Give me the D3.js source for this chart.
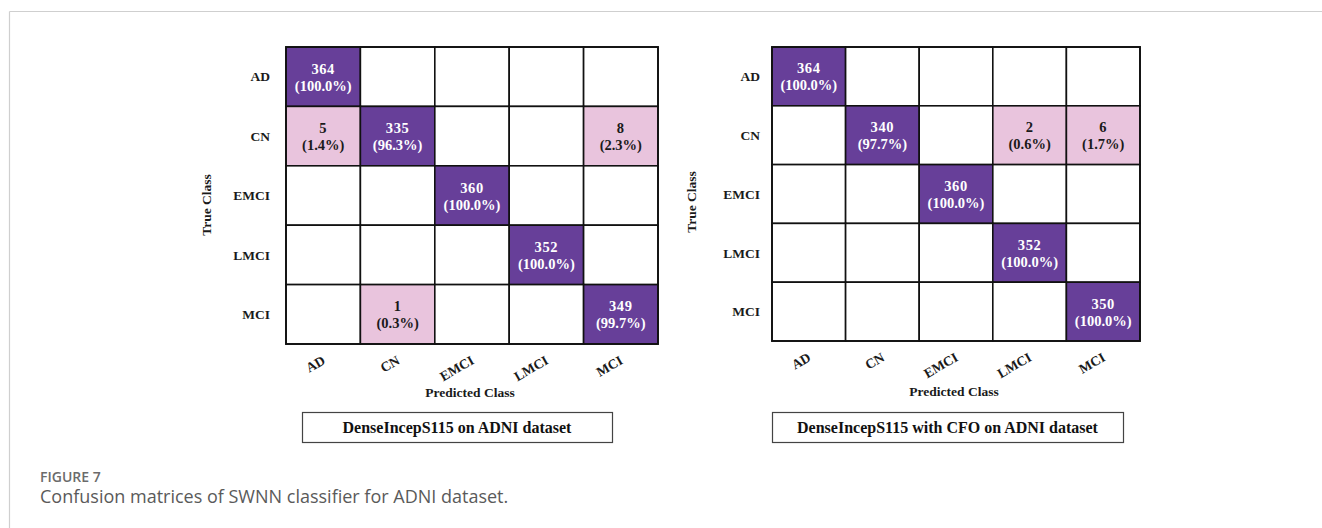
<!DOCTYPE html>
<html>
<head>
<meta charset="utf-8">
<script src="https://cdn.jsdelivr.net/npm/d3@7"></script>
<style>
  html, body { margin: 0; padding: 0; background: #fff; }
  svg { display: block; }
</style>
</head>
<body>
<svg id="fig" width="1322" height="528"></svg>
<script>
// Class labels shared by both matrices (rows = true class, columns = predicted class)
const classes = ["AD", "CN", "EMCI", "LMCI", "MCI"];

// Confusion counts, DenseIncepS115 on ADNI
const countsBase = [
  [364, 0, 0, 0, 0],
  [5, 335, 0, 0, 8],
  [0, 0, 360, 0, 0],
  [0, 0, 0, 352, 0],
  [0, 1, 0, 0, 349]
];

// Confusion counts, DenseIncepS115 with CFO on ADNI
const countsCFO = [
  [364, 0, 0, 0, 0],
  [0, 340, 0, 2, 6],
  [0, 0, 360, 0, 0],
  [0, 0, 0, 352, 0],
  [0, 0, 0, 0, 350]
];

const panelTitles = ["DenseIncepS115 on ADNI dataset", "DenseIncepS115 with CFO on ADNI dataset"];
const xAxisTitle = "Predicted Class";
const yAxisTitle = "True Class";
const figureLabel = "FIGURE 7";
const figureCaption = "Confusion matrices of SWNN classifier for ADNI dataset.";

const serif = "'Liberation Serif', 'Times New Roman', serif";
const sans = "'Open Sans', 'Noto Sans', sans-serif";
const PURPLE = "#673f99";
const PINK = "#e9c4dd";

const svg = d3.select("#fig");

// Page frame: rule along the top and down the left side
svg.append("line").attr("x1", 9.5).attr("x2", 1322).attr("y1", 11.5).attr("y2", 11.5)
  .attr("stroke", "#cfcfcf").attr("stroke-width", 1.2);
svg.append("line").attr("x1", 9.5).attr("x2", 9.5).attr("y1", 11.5).attr("y2", 528)
  .attr("stroke", "#cfcfcf").attr("stroke-width", 1.2);

const panels = [
  { counts: countsBase, title: panelTitles[0], left: 286, right: 658, top: 47, bottom: 344,
    rowLabelGap: 16, yTitleX: 207, yTitleY: 205, xTitleY: 397, box: [302, 412, 310, 30] },
  { counts: countsCFO, title: panelTitles[1], left: 772, right: 1140, top: 47, bottom: 341,
    rowLabelGap: 12, yTitleX: 692, yTitleY: 202, xTitleY: 396, box: [772, 412, 351, 30] }
];

panels.forEach(p => {
  const g = svg.append("g");
  const x = d3.scaleBand().domain(classes).range([p.left, p.right]);
  const y = d3.scaleBand().domain(classes).range([p.top, p.bottom]);
  const rowTotals = p.counts.map(r => d3.sum(r));

  const cells = [];
  p.counts.forEach((row, i) => row.forEach((v, j) => {
    cells.push({ t: classes[i], pr: classes[j], v, pct: v / rowTotals[i] * 100, diag: i === j });
  }));

  const fill = d => d.v === 0 ? "#ffffff" : (d.diag ? PURPLE : PINK);

  const cg = g.selectAll("g.cell").data(cells).join("g").attr("class", "cell");
  cg.append("rect")
    .attr("x", d => x(d.pr)).attr("y", d => y(d.t))
    .attr("width", x.bandwidth()).attr("height", y.bandwidth())
    .attr("fill", fill).attr("stroke", "#111").attr("stroke-width", 1.6);

  const lab = cg.filter(d => d.v > 0);
  const tcol = d => d.diag ? "#ffffff" : "#1a1a1a";
  lab.append("text")
    .attr("x", d => x(d.pr) + x.bandwidth() / 2)
    .attr("y", d => y(d.t) + y.bandwidth() / 2 - 3)
    .attr("text-anchor", "middle").attr("font-family", serif).attr("font-weight", "bold")
    .attr("font-size", 14.5).attr("letter-spacing", 0.6).attr("fill", tcol)
    .text(d => d.v);
  lab.append("text")
    .attr("x", d => x(d.pr) + x.bandwidth() / 2)
    .attr("y", d => y(d.t) + y.bandwidth() / 2 + 14)
    .attr("text-anchor", "middle").attr("font-family", serif).attr("font-weight", "bold")
    .attr("font-size", 14.5).attr("fill", tcol)
    .text(d => "(" + d.pct.toFixed(1) + "%)");

  // Outer border of the matrix
  g.append("rect").attr("x", p.left).attr("y", p.top)
    .attr("width", p.right - p.left).attr("height", p.bottom - p.top)
    .attr("fill", "none").attr("stroke", "#111").attr("stroke-width", 1.8);

  // Row labels (true class)
  g.selectAll("text.row").data(classes).join("text").attr("class", "row")
    .attr("x", p.left - p.rowLabelGap)
    .attr("y", d => y(d) + y.bandwidth() / 2)
    .attr("dy", "0.35em").attr("text-anchor", "end")
    .attr("font-family", serif).attr("font-weight", "bold").attr("font-size", 13.5)
    .attr("fill", "#1a1a1a").text(d => d);

  // Column labels (predicted class), slanted
  g.selectAll("text.col").data(classes).join("text").attr("class", "col")
    .attr("transform", d => `translate(${x(d) + x.bandwidth() / 2 + 3},${p.bottom + 19}) rotate(-30)`)
    .attr("text-anchor", "end")
    .attr("font-family", serif).attr("font-weight", "bold").attr("font-size", 13.5)
    .attr("fill", "#1a1a1a").text(d => d);

  // Axis titles
  g.append("text").attr("x", (p.left + p.right) / 2 - 2).attr("y", p.xTitleY)
    .attr("text-anchor", "middle").attr("font-family", serif).attr("font-weight", "bold")
    .attr("font-size", 13.5).attr("fill", "#1a1a1a").text(xAxisTitle);
  g.append("text")
    .attr("transform", `translate(${p.yTitleX + 4},${p.yTitleY}) rotate(-90)`)
    .attr("text-anchor", "middle").attr("font-family", serif).attr("font-weight", "bold")
    .attr("font-size", 13.5).attr("fill", "#1a1a1a").text(yAxisTitle);

  // Boxed panel title
  const [bx, by, bw, bh] = p.box;
  g.append("rect").attr("x", bx + 0.5).attr("y", by + 0.5).attr("width", bw).attr("height", bh)
    .attr("fill", "#fff").attr("stroke", "#444").attr("stroke-width", 1.2);
  g.append("text").attr("x", bx + bw / 2).attr("y", by + bh / 2).attr("dy", "0.35em")
    .attr("text-anchor", "middle").attr("font-family", serif).attr("font-weight", "bold")
    .attr("font-size", 16).attr("fill", "#111").text(p.title);
});

// Figure caption
svg.append("text").attr("x", 40).attr("y", 482)
  .attr("font-family", sans).attr("font-weight", 600).attr("font-size", 14)
  .attr("fill", "#6b6b6b").text(figureLabel);
svg.append("text").attr("x", 40).attr("y", 503)
  .attr("font-family", sans).attr("font-size", 18)
  .attr("fill", "#5a5a5a").text(figureCaption);
</script>
</body>
</html>
